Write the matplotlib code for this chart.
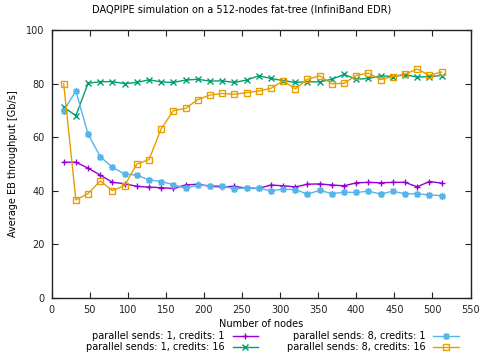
import matplotlib
matplotlib.use('Agg')
import matplotlib.pyplot as plt

nodes = list(range(16, 513, 16))

ps1_c1 = [50.6, 50.6, 48.4, 45.8, 43.1, 42.6, 41.6, 41.3, 41.1, 40.8, 42.1, 42.4,
          41.6, 41.4, 41.6, 40.9, 40.8, 42.1, 41.8, 41.4, 42.4, 42.5, 42.1, 41.8,
          42.9, 43.1, 42.9, 43.1, 43.1, 41.4, 43.4, 42.8]
ps1_c16 = [71.2, 68.0, 80.1, 80.7, 80.7, 80.0, 80.4, 81.4, 80.6, 80.4, 81.3, 81.6,
           80.9, 81.0, 80.4, 81.3, 82.9, 81.9, 81.1, 80.4, 80.7, 80.6, 81.6, 83.4,
           81.6, 81.9, 82.9, 82.6, 83.3, 82.4, 82.6, 83.0]
ps8_c1 = [69.9, 77.2, 61.1, 52.7, 48.7, 46.2, 45.8, 44.0, 43.4, 42.2, 40.9, 42.0,
          41.9, 41.8, 40.6, 41.1, 40.8, 40.0, 40.5, 40.4, 38.7, 40.1, 38.9, 39.4,
          39.3, 39.8, 38.7, 39.8, 38.8, 38.8, 38.4, 38.1]
ps8_c16 = [79.9, 36.5, 38.9, 43.6, 40.0, 41.9, 49.9, 51.6, 63.1, 69.9, 70.7, 74.0,
           75.7, 76.3, 76.0, 76.6, 77.2, 78.2, 81.0, 78.0, 81.6, 82.9, 79.9, 80.1,
           83.0, 83.9, 81.5, 82.6, 83.5, 85.4, 83.1, 84.3]

fs = 7
plt.rcParams['font.size'] = fs

fig = plt.figure(figsize=(4.84, 3.55), dpi=100)
ax = fig.add_axes([51.5/484, 1-297.7/355, 419/484, 267.7/355])

ax.plot(nodes, ps1_c1, color='#9400d3', lw=1, marker='+', ms=5, mew=1,
        label='parallel sends: 1, credits: 1')
ax.plot(nodes, ps1_c16, color='#009e73', lw=1, marker='x', ms=4, mew=1,
        label='parallel sends: 1, credits: 16')
ax.plot(nodes, ps8_c1, color='#56b4e9', lw=1, marker=(8, 2, 0), ms=5, mew=1,
        label='parallel sends: 8, credits: 1')
ax.plot(nodes, ps8_c16, color='#e69f00', lw=1, marker='s', ms=4, mew=1,
        fillstyle='none', label='parallel sends: 8, credits: 16')

ax.set_xlim(0, 550)
ax.set_ylim(0, 100)
ax.set_xticks(range(0, 551, 50))
ax.set_yticks(range(0, 101, 20))
ax.tick_params(direction='in', top=True, right=True, length=4, width=0.8,
               labelsize=fs, pad=5, colors='#222222')
for s in ax.spines.values():
    s.set_linewidth(1)
    s.set_color('#222222')

# gnuplot centres the title on the whole canvas
fig.suptitle('DAQPIPE simulation on a 512-nodes fat-tree (InfiniBand EDR)',
             fontsize=fs, x=0.5, y=1 - 9/355, va='center')
ax.set_xlabel('Number of nodes', labelpad=3)
ax.set_ylabel('Average EB throughput [Gb/s]', labelpad=6)

h, l = ax.get_legend_handles_labels()
fig.legend(h, l, ncol=2, numpoints=1,
           loc='upper center', bbox_to_anchor=(0.563, 0.08), frameon=False,
           markerfirst=False, handlelength=2.6, columnspacing=3,
           labelspacing=0.05, handletextpad=0.8, borderpad=0)

plt.savefig('out.png', dpi=100)
